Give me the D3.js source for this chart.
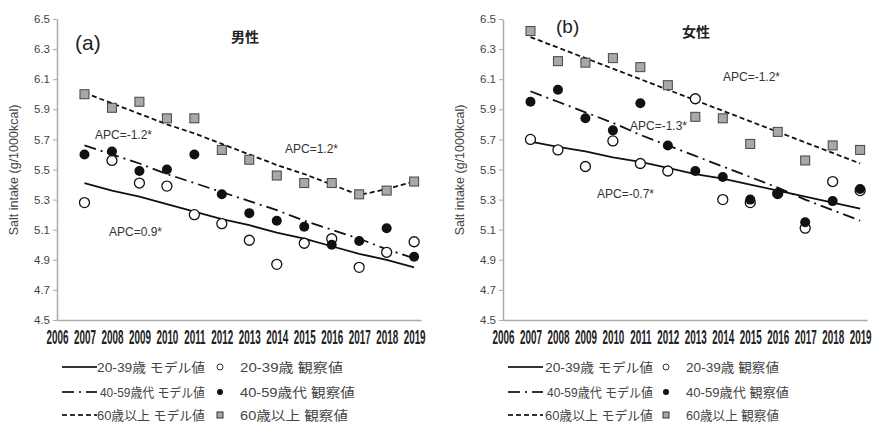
<!DOCTYPE html>
<html>
<head>
<meta charset="utf-8">
<script src="https://cdn.jsdelivr.net/npm/d3@7"></script>
<style>
  body { margin: 0; background: #fff; }
  text { font-family: "Liberation Sans", Arial, "Noto Sans CJK JP", sans-serif; }
</style>
</head>
<body>
<div id="chart"></div>
<script>
// years and axis ticks
const years = [2007, 2008, 2009, 2010, 2011, 2012, 2013, 2014, 2015, 2016, 2017, 2018, 2019];
const xTicks = [2006, 2007, 2008, 2009, 2010, 2011, 2012, 2013, 2014, 2015, 2016, 2017, 2018, 2019];
const yTicks = [4.5, 4.7, 4.9, 5.1, 5.3, 5.5, 5.7, 5.9, 6.1, 6.3, 6.5];

// (a) men - observed
const menObs2039 = [5.28, 5.56, 5.41, 5.39, 5.20, 5.14, 5.03, 4.87, 5.01, 5.04, 4.85, 4.95, 5.02];
const menObs4059 = [5.60, 5.62, 5.49, 5.50, 5.60, 5.335, 5.21, 5.16, 5.12, 5.00, 5.025, 5.11, 4.92];
const menObs60 = [6.00, 5.91, 5.95, 5.84, 5.84, 5.63, 5.565, 5.46, 5.41, 5.41, 5.335, 5.36, 5.42];
// (a) men - model
const menMod2039 = [5.41, 5.36, 5.32, 5.27, 5.22, 5.17, 5.13, 5.08, 5.04, 4.99, 4.94, 4.90, 4.85];
const menMod4059 = [5.66, 5.60, 5.54, 5.47, 5.41, 5.35, 5.29, 5.23, 5.16, 5.10, 5.04, 4.97, 4.91];
const menMod60 = [6.01, 5.94, 5.87, 5.80, 5.74, 5.67, 5.60, 5.53, 5.47, 5.40, 5.33, 5.37, 5.42];

// (b) women - observed
const womenObs2039 = [5.70, 5.63, 5.52, 5.69, 5.54, 5.49, 5.97, 5.30, 5.28, 5.34, 5.11, 5.42, 5.36];
const womenObs4059 = [5.95, 6.03, 5.84, 5.76, 5.94, 5.66, 5.49, 5.45, 5.30, 5.34, 5.15, 5.29, 5.37];
const womenObs60 = [6.42, 6.22, 6.21, 6.24, 6.18, 6.06, 5.85, 5.84, 5.67, 5.75, 5.56, 5.66, 5.63];
// (b) women - model
const womenMod2039 = [5.685, 5.65, 5.62, 5.58, 5.55, 5.51, 5.47, 5.44, 5.40, 5.36, 5.32, 5.28, 5.24];
const womenMod4059 = [6.02, 5.95, 5.88, 5.81, 5.73, 5.66, 5.59, 5.52, 5.45, 5.38, 5.30, 5.23, 5.16];
const womenMod60 = [6.38, 6.31, 6.24, 6.17, 6.10, 6.03, 5.96, 5.89, 5.82, 5.75, 5.68, 5.61, 5.54];

const legendLines = ["20-39歳 モデル値", "40-59歳代 モデル値", "60歳以上 モデル値"];
const legendMarks = ["20-39歳 観察値", "40-59歳代 観察値", "60歳以上 観察値"];
const yLabel = "Salt intake (g/1000kcal)";

const dashes = ["none", "12,5,2,5", "5,3"];

const svg = d3.select("#chart")
  .append("svg")
    .attr("width", 880)
    .attr("height", 423);

const y = d3.scaleLinear().domain([4.5, 6.5]).range([320, 19]);

function drawPanel(p) {
  const x = d3.scaleLinear().domain([2006, 2019.25]).range([p.x0, p.x0 + 364]);
  const g = svg.append("g");

  // y axis
  const ya = g.append("g")
    .attr("transform", `translate(${p.x0},0)`)
    .call(d3.axisLeft(y).tickValues(yTicks).tickFormat(d3.format(".1f")).tickSize(4).tickSizeOuter(0));
  ya.select(".domain").attr("stroke", "#aaa").attr("stroke-width", 1.5);
  ya.selectAll(".tick line").attr("stroke", "#aaa");
  ya.selectAll(".tick text").attr("fill", "#444").style("font-size", "11.5px").attr("x", -7);

  // x axis
  const xa = g.append("g")
    .attr("transform", "translate(0,320)")
    .call(d3.axisBottom(x).tickValues(xTicks).tickFormat(d3.format("d")).tickSize(0).tickSizeOuter(0));
  xa.select(".domain").attr("stroke", "#aaa").attr("stroke-width", 1.5);
  xa.selectAll(".tick text")
    .attr("y", 24)
    .attr("dy", null)
    .attr("fill", "#222")
    .attr("transform", "scale(0.47,1)")
    .style("font-weight", "bold")
    .style("font-size", "21px");

  // y label
  g.append("text")
    .attr("transform", `translate(${p.x0 - 39},170) rotate(-90)`)
    .attr("text-anchor", "middle")
    .attr("fill", "#444")
    .style("font-size", "12.5px")
    .text(yLabel);

  // model lines
  const line = d3.line().x((d, i) => x(years[i])).y(d => y(d));
  p.models.forEach((m, k) => {
    g.append("path")
      .datum(m)
      .attr("d", line)
      .attr("fill", "none")
      .attr("stroke", "#111")
      .attr("stroke-width", 1.8)
      .attr("stroke-dasharray", dashes[k]);
  });

  // observed: open circles
  g.selectAll(".o1").data(p.obs[0]).join("circle")
    .attr("cx", (d, i) => x(years[i])).attr("cy", d => y(d)).attr("r", 5)
    .attr("fill", "#fff").attr("stroke", "#111").attr("stroke-width", 1.3);
  // filled circles
  g.selectAll(".o2").data(p.obs[1]).join("circle")
    .attr("cx", (d, i) => x(years[i])).attr("cy", d => y(d)).attr("r", 5)
    .attr("fill", "#111");
  // squares
  g.selectAll(".o3").data(p.obs[2]).join("rect")
    .attr("x", (d, i) => x(years[i]) - 4.5).attr("y", d => y(d) - 4.5)
    .attr("width", 9).attr("height", 9)
    .attr("fill", "#a8a8a8").attr("stroke", "#444").attr("stroke-width", 1);

  // labels
  g.append("text").attr("x", p.tag[0]).attr("y", p.tag[1])
    .attr("fill", "#222").style("font-size", p.tag[2] + "px").text(p.tagText);
  g.append("text").attr("x", p.title[0]).attr("y", p.title[1])
    .attr("text-anchor", "middle").attr("fill", "#222")
    .style("font-family", "'Noto Sans CJK JP', sans-serif")
    .style("font-weight", "bold").style("font-size", "14px").text(p.titleText);
  p.apc.forEach(a => {
    g.append("text").attr("x", a[0]).attr("y", a[1])
      .attr("fill", "#333").style("font-size", "12px").text(a[2]);
  });

  // legend
  const rows = [367, 392, 415];
  rows.forEach((ry, k) => {
    g.append("line")
      .attr("x1", p.lx).attr("x2", p.lx + 35).attr("y1", ry).attr("y2", ry)
      .attr("stroke", "#333").attr("stroke-width", 1.8)
      .attr("stroke-dasharray", dashes[k]);
    g.append("text").attr("x", p.lx + p.lineText[k][0]).attr("y", ry + 4.5)
      .attr("fill", "#444").style("font-size", "13px")
      .attr("textLength", p.lineText[k][1]).attr("lengthAdjust", "spacingAndGlyphs")
      .text(legendLines[k]);
    g.append("text").attr("x", p.lx + 178).attr("y", ry + 4.5)
      .attr("fill", "#444").style("font-size", "13px")
      .attr("textLength", p.markText[k]).attr("lengthAdjust", "spacingAndGlyphs")
      .text(legendMarks[k]);
  });
  const mx = p.lx + 158;
  g.append("circle").attr("cx", mx).attr("cy", rows[0]).attr("r", 3)
    .attr("fill", "#fff").attr("stroke", "#333").attr("stroke-width", 1);
  g.append("circle").attr("cx", mx).attr("cy", rows[1]).attr("r", 3).attr("fill", "#111");
  g.append("rect").attr("x", mx - 3).attr("y", rows[2] - 3).attr("width", 6).attr("height", 6)
    .attr("fill", "#a8a8a8").attr("stroke", "#333").attr("stroke-width", 1);
}

drawPanel({
  x0: 57,
  models: [menMod2039, menMod4059, menMod60],
  obs: [menObs2039, menObs4059, menObs60],
  tagText: "(a)", tag: [75, 50, 21],
  titleText: "男性", title: [245, 42],
  apc: [[95, 139, "APC=-1.2*"], [285, 153, "APC=1.2*"], [109, 236, "APC=0.9*"]],
  lx: 62,
  lineText: [[35, 108], [38, 105], [35, 108]],
  markText: [103, 115, 108]
});

drawPanel({
  x0: 503,
  models: [womenMod2039, womenMod4059, womenMod60],
  obs: [womenObs2039, womenObs4059, womenObs60],
  tagText: "(b)", tag: [556, 33, 19],
  titleText: "女性", title: [696, 37],
  apc: [[723, 81, "APC=-1.2*"], [630, 130, "APC=-1.3*"], [597, 198, "APC=-0.7*"]],
  lx: 508,
  lineText: [[37, 108], [39, 106], [37, 108]],
  markText: [93, 103, 93]
});
</script>
</body>
</html>
